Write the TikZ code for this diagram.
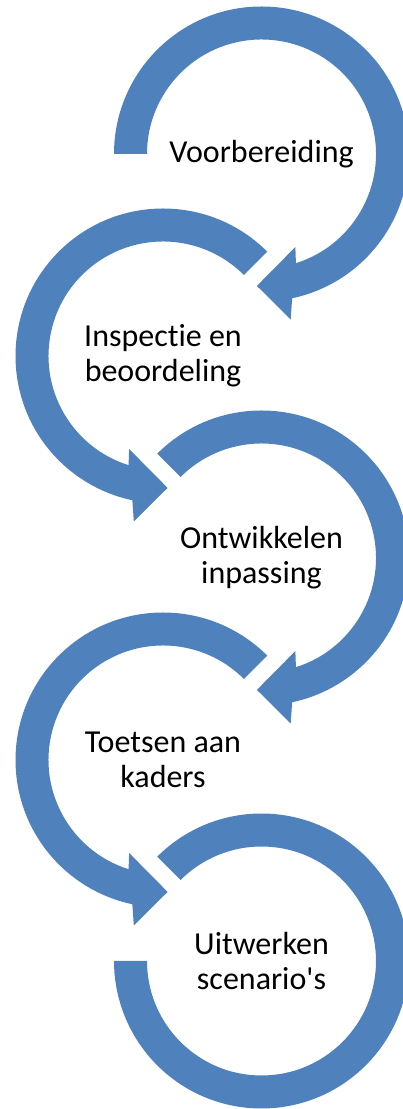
\documentclass[tikz,border=0pt]{standalone}
\usepackage{fontspec}
\setmainfont{Carlito}[Ligatures={NoCommon}]
\usepackage{tikz}

\definecolor{arcblue}{RGB}{79,129,189}

% one block arc with its arrow head, centred on (0,0), start angle #1
\newcommand{\headarc}[1]{%
  \fill[arcblue] (#1:147.5) arc[start angle=#1, end angle=-78, radius=147.5]
    -- (-80:168) -- (-92:132) -- (-70:99) -- (-72.5:114.5)
    arc[start angle=-72.5, end angle=#1, radius=114.5] -- cycle;}

\begin{document}
\begin{tikzpicture}[x=1pt, y=1pt,
                    steptext/.style={align=center, inner sep=0pt,
                                     font=\fontsize{32}{35}\selectfont}]

\useasboundingbox (0,0) rectangle (403,1109);
\clip (0,0) rectangle (403,1109);

\coordinate (c1) at (261.5,955);
\coordinate (c2) at (163,753);
\coordinate (c3) at (261.5,551);
\coordinate (c4) at (163,349);
\coordinate (c5) at (261.5,148);

\begin{scope}[shift={(c1)}]
  \headarc{180}
\end{scope}
\begin{scope}[shift={(c2)}, xscale=-1]
  \headarc{135}
\end{scope}
\begin{scope}[shift={(c3)}]
  \headarc{135}
\end{scope}
\begin{scope}[shift={(c4)}, xscale=-1]
  \headarc{135}
\end{scope}
\begin{scope}[shift={(c5)}]
  \fill[arcblue] (135:147.5) arc[start angle=135, end angle=-180, radius=147.5]
    -- (180:114.5) arc[start angle=-180, end angle=135, radius=114.5] -- cycle;
\end{scope}

\node [steptext] (voor) at (c1) {Voorbereiding};
\node [steptext] (insp) at (c2) {Inspectie en\\beoordeling};
\node [steptext] (ontw) at (c3) {Ontwikkelen\\inpassing};
\node [steptext] (toets) at (c4) {Toetsen aan\\kaders};
\node [steptext] (uitw) at (c5) {Uitwerken\\scenario\textquotesingle s};

\end{tikzpicture}
\end{document}
